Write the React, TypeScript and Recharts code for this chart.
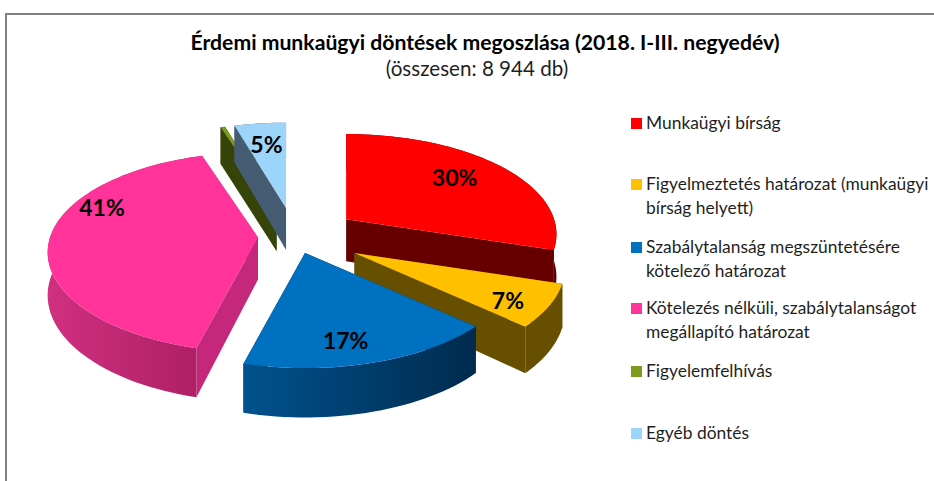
import React from 'react';
import { PieChart, Pie, Cell, Legend } from 'recharts';

const categories = [
  'Munkaügyi bírság',
  'Figyelmeztetés határozat (munkaügyi bírság helyett)',
  'Szabálytalanság megszüntetésére kötelező határozat',
  'Kötelezés nélküli, szabálytalanságot megállapító határozat',
  'Figyelemfelhívás',
  'Egyéb döntés',
];
const shares = [30, 7, 17.4, 41.2, 0.4, 4.6];

const topColors = ['#ff0000', '#ffc000', '#0070c0', '#ff3399', '#7b9a1e', '#9dd4f9'];
const wallLeft = ['#660000', '#665000', '#00528e', '#d0307f', '#364309', '#465c72'];
const wallRight = ['#660000', '#665000', '#002b4e', '#ad1f66', '#364309', '#465c72'];
const edgeColors = ['#660000', '#665000', '#002b4e', '#c5277a', '#364309', '#465c72'];

// how far each slice is pulled out of the pie, share of the radius
const explode = [0.305, 0.33, 0.17, 0.178, 0.3, 0.3];
// nudges for the percent labels: radius share and angle shift
const labelRadius = [0.72, 0.82, 0.8, 0.85, 0, 0.73];
const labelTurn = [-3, 3, 4, 24, 0, 0];
const legendTops = [111, 172, 235, 296, 359, 421];

const TILT = 0.471;
const PERSPECTIVE = 0.149;
const DEPTH = 42;

const tableData = categories.map((name, i) => ({ name, value: shares[i] }));

// theta runs clockwise from 12 o'clock, r is a share of the radius
const project = (theta: number, r: number, radius: number) => {
  const a = (theta * Math.PI) / 180;
  const u = r * Math.sin(a);
  const v = -r * Math.cos(a);
  const s = 1 / (1 - PERSPECTIVE * v);
  return { x: radius * u * s, y: radius * TILT * v * s, s };
};

const apexOf = (cx: number, cy: number, radius: number, midTheta: number, pull: number) => {
  const a = (midTheta * Math.PI) / 180;
  return {
    x: cx + radius * pull * Math.sin(a),
    y: cy - radius * TILT * pull * Math.cos(a),
  };
};

const Slice3D = (props: any) => {
  const { cx, cy, outerRadius, startAngle, endAngle, index } = props;
  const t0 = 90 - startAngle;
  const t1 = 90 - endAngle;
  const apex = apexOf(cx, cy, outerRadius, (t0 + t1) / 2, explode[index]);
  const steps = Math.max(2, Math.ceil((t1 - t0) / 2));
  const rim = [];
  for (let i = 0; i <= steps; i++) {
    const p = project(t0 + ((t1 - t0) * i) / steps, 1, outerRadius);
    rim.push({ x: apex.x + p.x, y: apex.y + p.y, d: DEPTH * p.s });
  }
  const first = rim[0];
  const last = rim[rim.length - 1];
  const pts = (list: { x: number; y: number }[]) => list.map((p) => `${p.x},${p.y}`).join(' ');
  const lower = rim.map((p) => ({ x: p.x, y: p.y + p.d }));
  const apexLow = { x: apex.x, y: apex.y + DEPTH };
  const gradId = `wall-${index}`;
  return (
    <g>
      <defs>
        <linearGradient id={gradId} x1="0" y1="0" x2="1" y2="0">
          <stop offset="0%" stopColor={wallLeft[index]} />
          <stop offset="100%" stopColor={wallRight[index]} />
        </linearGradient>
      </defs>
      <polygon points={pts([apex, first, lower[0], apexLow])} fill={edgeColors[index]} />
      <polygon points={pts([apex, last, lower[lower.length - 1], apexLow])} fill={edgeColors[index]} />
      <polygon points={pts([...rim, ...lower.slice().reverse()])} fill={`url(#${gradId})`} />
      <polygon points={pts([apex, ...rim])} fill={topColors[index]} />
    </g>
  );
};

const renderPercent = (props: any) => {
  const { cx, cy, outerRadius, midAngle, percent, index } = props;
  if (percent < 0.01) return null;
  const mid = 90 - midAngle;
  const apex = apexOf(cx, cy, outerRadius, mid, explode[index]);
  const p = project(mid + labelTurn[index], labelRadius[index], outerRadius);
  return (
    <text
      x={apex.x + p.x}
      y={apex.y + p.y}
      textAnchor="middle"
      dominantBaseline="central"
      fontFamily="Lato, sans-serif"
      fontWeight={700}
      fontSize={23}
      fill="#000000"
    >
      {`${Math.round(percent * 100)}%`}
    </text>
  );
};

const renderLegend = () => (
  <div style={{ position: 'relative', width: 934, height: 481 }}>
    {categories.map((name, i) => (
      <div
        key={name}
        style={{
          position: 'absolute',
          left: 646,
          top: legendTops[i],
          width: 288,
          fontFamily: 'Lato, sans-serif',
          fontSize: 17.4,
          lineHeight: '24px',
          color: '#1f1f1f',
        }}
      >
        <span
          style={{
            position: 'absolute',
            left: -15,
            top: 7,
            width: 11,
            height: 11,
            background: topColors[i],
          }}
        />
        {name}
      </div>
    ))}
  </div>
);

export default function App() {
  return (
    <div style={{ position: 'fixed', left: 0, top: 0, width: 934, height: 481, background: '#ffffff' }}>
      <div
        style={{
          position: 'absolute',
          left: 5,
          top: 13,
          right: 0,
          bottom: 0,
          borderTop: '2px solid #808080',
          borderLeft: '2px solid #808080',
        }}
      />
      <PieChart width={934} height={481} margin={{ top: 0, right: 0, bottom: 0, left: 0 }} style={{ position: 'absolute', left: 0, top: 0 }}>
        <text x={485} y={42} textAnchor="middle" dominantBaseline="central" fontFamily="Lato, sans-serif" fontWeight={700} fontSize={21.2} fill="#000000">
          Érdemi munkaügyi döntések megoszlása (2018. I-III. negyedév)
        </text>
        <text x={477} y={68} textAnchor="middle" dominantBaseline="central" fontFamily="Lato, sans-serif" fontSize={20.6} fill="#1f1f1f">
          (összesen: 8 944 db)
        </text>
        <Pie
          data={tableData}
          dataKey="value"
          nameKey="name"
          cx={295}
          cy={237}
          outerRadius={208}
          startAngle={90}
          endAngle={-270}
          stroke="none"
          shape={Slice3D}
          label={renderPercent}
          labelLine={false}
          isAnimationActive={false}
        >
          {tableData.map((d, i) => (
            <Cell key={d.name} fill={topColors[i]} />
          ))}
        </Pie>
        <Legend
          layout="horizontal"
          verticalAlign="middle"
          align="center"
          content={renderLegend}
          wrapperStyle={{ position: 'absolute', left: 0, top: 0, width: 934, height: 481 }}
        />
      </PieChart>
    </div>
  );
}
